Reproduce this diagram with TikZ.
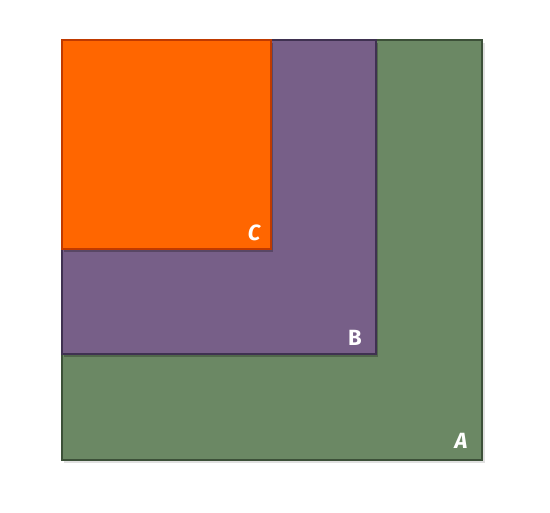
\documentclass[tikz,border=0pt]{standalone}
\usepackage{fontspec}
\setsansfont{Fira Sans}
\begin{document}
\begin{tikzpicture}[x=1pt,y=-1pt,
  sq/.style={line width=1.5pt},
  lbl/.style={text=white,font=\sffamily\bfseries\fontsize{22}{24}\selectfont,inner sep=0pt}]
\useasboundingbox (0,0) rectangle (550,513);
\definecolor{cA}{HTML}{6B8864}\definecolor{cAd}{HTML}{3C5038}
\definecolor{cB}{HTML}{775F88}\definecolor{cBd}{HTML}{3F3151}
\definecolor{cC}{HTML}{FF6600}\definecolor{cCd}{HTML}{C03A00}
\fill[black!12] (64,43) rectangle (485,463);
\draw[sq,draw=cAd,fill=cA] (62,40) rectangle (482,460);
\fill[black,opacity=0.25] (64,43) rectangle (378,357);
\draw[sq,draw=cBd,fill=cB] (62,40) rectangle (376,354);
\fill[black,opacity=0.25] (64,43) rectangle (273,252);
\draw[sq,draw=cCd,fill=cC] (62,40) rectangle (271,249);
\node[lbl] (C) at (254,233) {\itshape C};
\node[lbl] (B) at (355,338) {B};
\node[lbl] (A) at (461,441) {\itshape A};
\end{tikzpicture}
\end{document}
